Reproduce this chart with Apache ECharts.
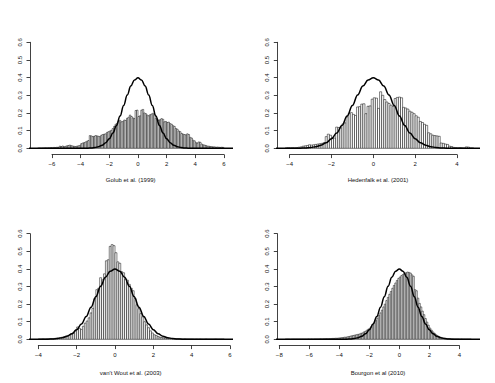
<!DOCTYPE html>
<html>
<head>
<meta charset="utf-8">
<script src="https://cdn.jsdelivr.net/npm/echarts@6/dist/echarts.min.js"></script>
<style>
  html, body { margin: 0; padding: 0; background: #fff; }
  #chart { width: 495px; height: 383px; }
</style>
</head>
<body>
<div id="chart"></div>
<script>
// histogram densities, bin width 0.1, first bin starts at *Start
const golubStart = -7.0
const golub = [
  0.001, 0.002, 0.001, 0.002, 0.002, 0.003, 0.002, 0.003, 0.003, 0.004,
  0.003, 0.005, 0.004, 0.006, 0.005, 0.012, 0.010, 0.013, 0.009, 0.011,
  0.014, 0.016, 0.018, 0.015, 0.013, 0.011, 0.010, 0.012, 0.014, 0.016,
  0.026, 0.030, 0.032, 0.036, 0.040, 0.044, 0.072, 0.070, 0.066, 0.068,
  0.072, 0.070, 0.068, 0.066, 0.074, 0.078, 0.080, 0.082, 0.090, 0.094,
  0.098, 0.102, 0.112, 0.124, 0.136, 0.142, 0.154, 0.158, 0.150, 0.152,
  0.160, 0.158, 0.170, 0.176, 0.188, 0.180, 0.172, 0.168, 0.214, 0.216,
  0.180, 0.184, 0.216, 0.220, 0.200, 0.196, 0.188, 0.184, 0.190, 0.194,
  0.198, 0.192, 0.170, 0.166, 0.158, 0.162, 0.168, 0.164, 0.150, 0.152,
  0.146, 0.148, 0.140, 0.136, 0.128, 0.124, 0.112, 0.108, 0.098, 0.094,
  0.084, 0.080, 0.078, 0.076, 0.082, 0.078, 0.062, 0.058, 0.046, 0.042,
  0.032, 0.030, 0.036, 0.034, 0.024, 0.020, 0.018, 0.016, 0.012, 0.012,
  0.010, 0.009, 0.008, 0.008, 0.006, 0.007, 0.006, 0.005, 0.006, 0.005
]

const hedenfalkStart = -4.2
const hedenfalk = [
  0.003, 0.004, 0.003, 0.004, 0.003, 0.004, 0.006, 0.008, 0.012, 0.014,
  0.016, 0.020, 0.018, 0.020, 0.022, 0.024, 0.026, 0.028, 0.032, 0.066,
  0.080, 0.074, 0.060, 0.058, 0.120, 0.118, 0.116, 0.138, 0.144, 0.178,
  0.198, 0.202, 0.192, 0.186, 0.234, 0.236, 0.250, 0.252, 0.196, 0.238,
  0.240, 0.278, 0.286, 0.284, 0.226, 0.320, 0.300, 0.276, 0.262, 0.254,
  0.244, 0.238, 0.282, 0.288, 0.290, 0.286, 0.232, 0.228, 0.222, 0.210,
  0.204, 0.196, 0.184, 0.176, 0.152, 0.146, 0.136, 0.130, 0.088, 0.082,
  0.074, 0.072, 0.070, 0.068, 0.030, 0.028, 0.024, 0.022, 0.012, 0.010,
  0.005, 0.004, 0.003, 0.004, 0.003, 0.002, 0.008, 0.007, 0.002, 0.002
]

const woutStart = -4.0
const wout = [
  0.002, 0.002, 0.003, 0.002, 0.003, 0.003, 0.004, 0.004, 0.005, 0.006,
  0.008, 0.010, 0.012, 0.014, 0.018, 0.022, 0.026, 0.030, 0.036, 0.052,
  0.070, 0.062, 0.056, 0.074, 0.092, 0.104, 0.122, 0.150, 0.176, 0.232,
  0.282, 0.290, 0.350, 0.338, 0.372, 0.446, 0.452, 0.528, 0.538, 0.532,
  0.492, 0.440, 0.432, 0.384, 0.378, 0.342, 0.336, 0.312, 0.290, 0.276,
  0.232, 0.196, 0.174, 0.146, 0.128, 0.100, 0.082, 0.066, 0.048, 0.036,
  0.026, 0.022, 0.016, 0.012, 0.010, 0.008, 0.007, 0.006, 0.005, 0.004,
  0.004, 0.003, 0.004, 0.003, 0.003, 0.002, 0.003, 0.002, 0.002, 0.002,
  0.002, 0.001, 0.002, 0.001, 0.002, 0.001, 0.001, 0.002, 0.001, 0.001,
  0.001, 0.001, 0.002, 0.001, 0.001, 0.001, 0.001
]

const bourgonStart = -7.6
const bourgon = [
  0.001, 0.001, 0.001, 0.000, 0.001, 0.001, 0.001, 0.001, 0.001, 0.001,
  0.001, 0.001, 0.001, 0.001, 0.001, 0.002, 0.001, 0.002, 0.001, 0.002,
  0.002, 0.002, 0.002, 0.003, 0.002, 0.003, 0.003, 0.004, 0.003, 0.004,
  0.004, 0.005, 0.005, 0.006, 0.006, 0.007, 0.008, 0.009, 0.010, 0.012,
  0.012, 0.014, 0.016, 0.018, 0.020, 0.022, 0.024, 0.026, 0.028, 0.030,
  0.034, 0.036, 0.042, 0.046, 0.052, 0.058, 0.064, 0.072, 0.082, 0.094,
  0.106, 0.120, 0.136, 0.150, 0.166, 0.184, 0.200, 0.220, 0.238, 0.256,
  0.272, 0.290, 0.306, 0.320, 0.334, 0.346, 0.354, 0.362, 0.368, 0.376,
  0.378, 0.382, 0.380, 0.376, 0.366, 0.358, 0.282, 0.276, 0.234, 0.204,
  0.184, 0.160, 0.140, 0.118, 0.098, 0.080, 0.064, 0.052, 0.042, 0.034,
  0.026, 0.020, 0.016, 0.012, 0.009, 0.007, 0.006, 0.005, 0.004, 0.003,
  0.003, 0.003, 0.002, 0.002, 0.002, 0.002, 0.001, 0.002, 0.001, 0.001,
  0.001, 0.001, 0.001, 0.001
]
const binWidth = 0.1

// overlaid normal curve (same in all four)
const curveX = [-9, -4, -3.75, -3.5, -3.25, -3, -2.75, -2.5, -2.25, -2, -1.75, -1.5, -1.25, -1, -0.75, -0.5, -0.25,
  0, 0.25, 0.5, 0.75, 1, 1.25, 1.5, 1.75, 2, 2.25, 2.5, 2.75, 3, 3.25, 3.5, 3.75, 4, 7]
const curveY = [0, 0.0001, 0.0004, 0.0009, 0.002, 0.0044, 0.0091, 0.0175, 0.0317, 0.054, 0.0863, 0.1295, 0.1826, 0.242, 0.3011, 0.3521, 0.3867,
  0.3989, 0.3867, 0.3521, 0.3011, 0.242, 0.1826, 0.1295, 0.0863, 0.054, 0.0317, 0.0175, 0.0091, 0.0044, 0.002, 0.0009, 0.0004, 0.0001, 0]

const yTicks = ['0.0', '0.1', '0.2', '0.3', '0.4', '0.5', '0.6']

const panels = [
  { name: 'Golub et al. (1999)', start: golubStart, values: golub,
    left: 30, top: 42.3, width: 201.4, height: 106, xmin: -7.535, xmax: 6.52, t0: -6, t1: 6, titleY: 180 },
  { name: 'Hedenfalk et al. (2001)', start: hedenfalkStart, values: hedenfalk,
    left: 277.3, top: 42.3, width: 201.4, height: 106, xmin: -4.591, xmax: 5.04, t0: -4, t1: 4, titleY: 180 },
  { name: 'van\'t Wout et al. (2003)', start: woutStart, values: wout,
    left: 30, top: 233.7, width: 201.4, height: 105.6, xmin: -4.434, xmax: 6.072, t0: -4, t1: 6, titleY: 373 },
  { name: 'Bourgon et al (2010)', start: bourgonStart, values: bourgon,
    left: 277.3, top: 233.7, width: 201.4, height: 105.6, xmin: -8.133, xmax: 5.293, t0: -8, t1: 4, titleY: 373 }
]

const font = '"Liberation Sans", Arial, Helvetica, sans-serif'
const ink = '#111'

function renderBar(params, api) {
  const a = api.coord([api.value(0), api.value(2)])
  const b = api.coord([api.value(1), 0])
  return {
    type: 'rect',
    shape: { x: a[0], y: a[1], width: b[0] - a[0], height: b[1] - a[1] },
    style: { fill: '#fff', stroke: '#000', lineWidth: 0.5 }
  }
}

const grid = []
const xAxis = []
const yAxis = []
const series = []
const graphic = []

panels.forEach((p, i) => {
  // plot region with the data
  grid.push({ left: p.left, top: p.top, width: p.width, height: p.height })
  xAxis.push({ gridIndex: i, type: 'value', min: p.xmin, max: p.xmax, show: false })
  yAxis.push({
    gridIndex: i, type: 'value', min: 0, max: 0.6, interval: 0.1,
    axisLine: { show: true, onZero: false, lineStyle: { color: ink, width: 0.8 } },
    axisTick: { show: true, length: 3.5, lineStyle: { color: ink, width: 0.8 } },
    splitLine: { show: false },
    axisLabel: {
      rotate: 90, margin: 7.5, fontSize: 6, fontFamily: font, color: ink,
      formatter: (v) => yTicks[Math.round(v * 10)]
    }
  })
  const data = p.values.map((h, k) => [
    +(p.start + k * binWidth).toFixed(2), +(p.start + (k + 1) * binWidth).toFixed(2), h
  ])
  series.push({
    type: 'custom', xAxisIndex: i, yAxisIndex: i, renderItem: renderBar,
    encode: { x: [0, 1], y: 2 }, data: data, silent: true, z: 2
  })
  series.push({
    type: 'line', xAxisIndex: i, yAxisIndex: i, showSymbol: false, smooth: 0.4,
    smoothMonotone: 'x', silent: true, z: 3,
    lineStyle: { color: '#000', width: 1.5 },
    data: curveX.map((x, k) => [x, curveY[k]])
  })
  graphic.push({
    type: 'text', x: p.left + p.width / 2, y: p.titleY,
    style: { text: p.name, font: '6px ' + font, fill: ink, textAlign: 'center', textVerticalAlign: 'middle' }
  })
})

// x axes drawn only between the first and last tick, like base R
panels.forEach((p, i) => {
  const px = (v) => p.left + (v - p.xmin) / (p.xmax - p.xmin) * p.width
  const gi = panels.length + i
  grid.push({ left: px(p.t0), top: p.top, width: px(p.t1) - px(p.t0), height: p.height })
  xAxis.push({
    gridIndex: gi, type: 'value', min: p.t0, max: p.t1, interval: 2, offset: 6.3,
    axisLine: { show: true, onZero: false, lineStyle: { color: ink, width: 0.8 } },
    axisTick: { show: true, length: 3.5, lineStyle: { color: ink, width: 0.8 } },
    splitLine: { show: false },
    axisLabel: {
      margin: 6, fontSize: 6, fontFamily: font, color: ink,
      formatter: (v) => String(v).replace('-', '\u2212')
    }
  })
  yAxis.push({ gridIndex: gi, type: 'value', min: 0, max: 0.6, show: false })
})

const chart = echarts.init(document.getElementById('chart'), null, { renderer: 'svg' })
chart.setOption({
  animation: false,
  backgroundColor: '#fff',
  grid: grid,
  xAxis: xAxis,
  yAxis: yAxis,
  series: series,
  graphic: graphic
})
</script>
</body>
</html>
